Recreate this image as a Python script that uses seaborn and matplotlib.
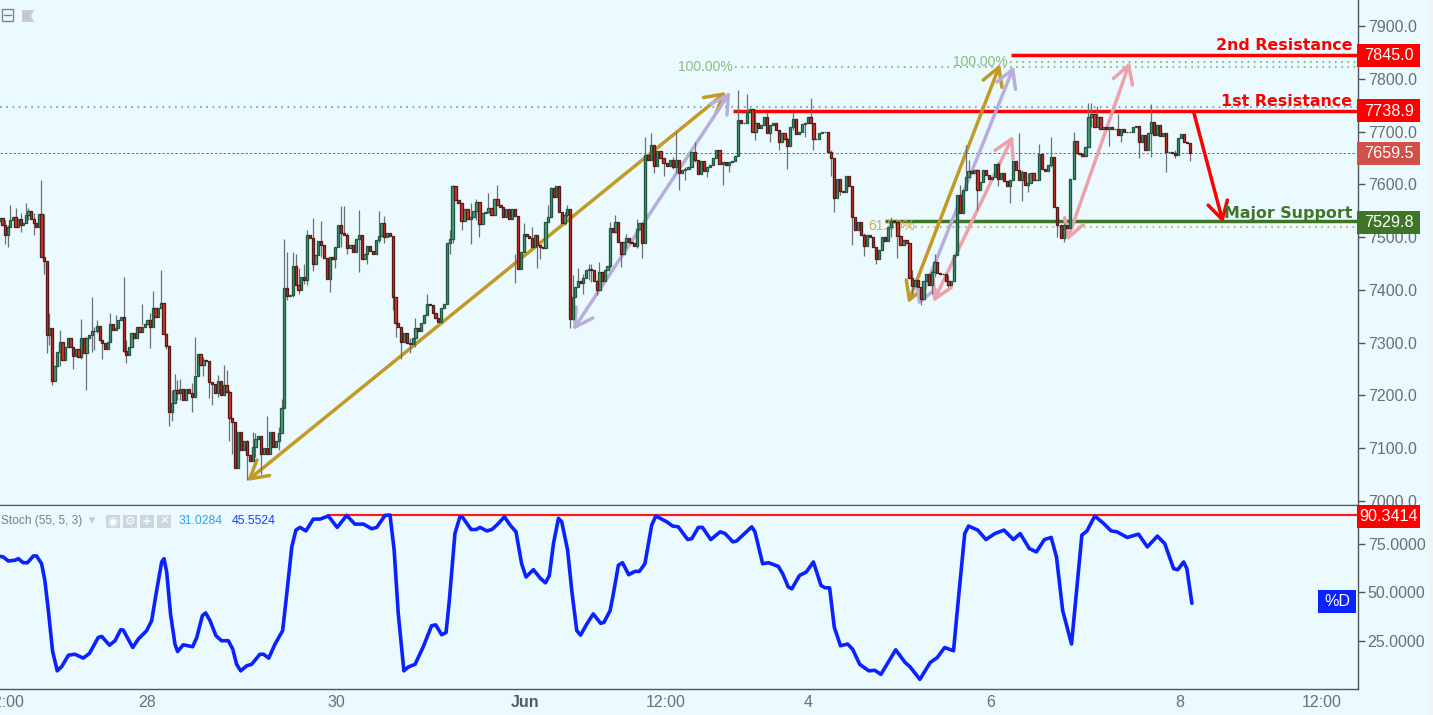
import numpy as np
import pandas as pd
import seaborn as sns
import matplotlib.pyplot as plt
from matplotlib.patches import Rectangle, Polygon

W, H = 1433, 715
BG = '#EAFAFF'
SANS = 'Liberation Sans'

closes_a = [7536, 7523, 7505, 7520, 7532, 7539, 7520, 7534, 7523, 7526,
            7542, 7550, 7534, 7526, 7519, 7543, 7463, 7454, 7315, 7327,
            7228, 7255, 7283, 7302, 7267, 7292, 7308, 7292, 7275, 7289,
            7272, 7309, 7280, 7308, 7315, 7323, 7322, 7332, 7305, 7300,
            7288, 7302, 7335, 7324, 7327, 7343, 7348, 7284, 7277, 7292,
            7318, 7309, 7329, 7321, 7330, 7335, 7343, 7330, 7365, 7349,
            7365, 7375, 7316, 7294, 7168, 7185, 7210, 7204, 7213, 7191,
            7212, 7204, 7198, 7237, 7278, 7258, 7267, 7266, 7225, 7222,
            7204, 7228, 7201, 7220, 7207, 7157, 7150, 7062, 7131, 7097,
            7114, 7087, 7075, 7103, 7117, 7124, 7089, 7101, 7089, 7131,
            7103, 7114, 7128, 7176, 7403, 7388, 7390, 7446, 7409, 7400,
            7424, 7419, 7504, 7498, 7449, 7466, 7493, 7485, 7460, 7420,
            7463, 7458, 7482, 7523, 7507, 7504, 7479]
closes_b = [7486, 7471, 7496, 7504, 7458, 7469, 7484, 7474, 7469, 7494,
            7503, 7526, 7501, 7507, 7503, 7386, 7337, 7329, 7301, 7318,
            7299, 7297, 7308, 7327, 7323, 7337, 7352, 7373, 7371, 7356,
            7346, 7340, 7365, 7374, 7488, 7496, 7597, 7570, 7564, 7530,
            7554, 7535, 7539, 7550, 7566, 7524, 7545, 7547, 7556, 7542,
            7573, 7561, 7558, 7539, 7554, 7534, 7554, 7541, 7439, 7471,
            7506, 7503, 7499, 7482, 7505, 7485, 7481, 7479, 7529, 7539,
            7594, 7577, 7597, 7548, 7526, 7542, 7554, 7344, 7387, 7406,
            7417, 7414, 7422, 7438, 7440, 7438, 7417, 7400, 7434, 7416,
            7438, 7446, 7517, 7509, 7529, 7491, 7469, 7491, 7499, 7491,
            7488, 7484, 7515, 7526, 7489, 7656, 7646, 7674, 7635, 7664,
            7649, 7641, 7635, 7647, 7632, 7646, 7621, 7627, 7630, 7633,
            7662, 7646, 7619, 7645, 7625, 7632, 7637, 7649, 7665, 7638,
            7643, 7637, 7643, 7645, 7654, 7722, 7716, 7716, 7738]
closes_c = [7742, 7700, 7717, 7707, 7712, 7728, 7697, 7712, 7717, 7703,
            7680, 7697, 7685, 7673, 7708, 7723, 7695, 7700, 7714, 7716,
            7727, 7716, 7685, 7685, 7697, 7700, 7700, 7662, 7649, 7575,
            7610, 7587, 7586, 7616, 7596, 7539, 7513, 7529, 7504, 7483,
            7504, 7501, 7482, 7458, 7476, 7501, 7493, 7520, 7530, 7529,
            7503, 7485, 7494, 7488, 7423, 7407, 7419, 7406, 7382, 7416,
            7430, 7409, 7434, 7453, 7433, 7431, 7430, 7416, 7410, 7416,
            7466, 7580, 7545, 7590, 7614, 7625, 7621, 7627, 7590, 7605,
            7627, 7618, 7611, 7613, 7638, 7611, 7621, 7607, 7596, 7608,
            7645, 7627, 7608, 7624, 7599, 7603, 7622, 7608, 7608, 7657,
            7630, 7626, 7637, 7652, 7558, 7523, 7498, 7523, 7518, 7611,
            7683, 7659, 7657, 7654, 7671, 7728, 7734, 7709, 7728, 7704,
            7709, 7704, 7708, 7704, 7704, 7693, 7704, 7700, 7700, 7700,
            7708, 7710, 7681, 7693, 7665, 7697, 7719, 7693, 7712, 7692,
            7697, 7662, 7662, 7659, 7656, 7687, 7695, 7681, 7678, 7659]
first_open = 7530

# big candles pinned to the bar axis: position in closes, bar
pins_a = ([0, 18, 64, 104, 126], [-0.5, 15.3, 56.7, 95.9, 117])
pins_b = ([0, 15, 36, 58, 77, 105, 135, 138], [118.3, 132.6, 152.9, 175.2, 192.7, 218.1, 249.7, 252.6])
pins_c = ([0, 29, 54, 71, 104, 110, 149], [253.6, 282.1, 307.8, 323.8, 356.8, 363.4, 402.8])

# long wicks: bar, high, low
wick_bar = [1.1, 1.8, 2.9, 4.6, 6.8, 8.3, 9.4, 11.1, 13.3, 14, 14.6, 15.3, 16, 17.3, 19.6,
            24.4, 27.2, 28.4, 30.5, 31.7, 32.5, 34.5, 36.8, 38.5, 41, 41.9, 47.7, 50.4, 51.2,
            53.8, 54.8, 56, 56.7, 57.7, 58.7, 59.4, 61.1, 65, 65.7, 68.4, 70.1, 71.8, 73, 75.2,
            76.1, 77.5, 78.4, 80.6, 83.1, 85.1, 86.5, 88.5, 90.5, 93.5, 95.2, 95.9, 96.7, 98.7,
            100, 101, 102.3, 104, 105.1, 105.7, 108.5, 111.4, 112.7, 114.8, 115.6, 117,
            120.9, 124.3, 127.7, 129.7, 132.8, 133.6, 135.3, 138.2, 140.1, 144.3, 151.8, 153.1,
            156, 158.6, 161, 162.3, 165, 168.4, 174.6, 177.2, 180, 181.2, 182.5, 185.3, 186.5,
            190.4, 192.1, 192.7, 193.6, 195.5, 197.2, 198.6, 200, 201.7, 203, 206.6, 207.7,
            209.6, 211.7, 215, 215.8, 217.2, 218.1, 219.8, 221.1, 224.3, 227.1, 229.1, 229.7,
            231.7, 235.1, 239, 244.3, 246.7, 249.7, 252.6,
            255.1, 259.4, 260.6, 263.7, 266.4, 268.5, 272.4, 273.9, 275.2, 280.7, 282.1, 284.3,
            288.5, 291.9, 296.2, 301.5, 303.8, 308.6, 311.2, 315.1, 316.5, 321.2, 324.7, 326.4,
            327.8, 331.2, 337.4, 341.9, 344.4, 345.6, 347.6, 351.9, 356, 357.5, 359.7, 363.4,
            368.5, 369.9, 371.9, 375.8, 378.1, 379.2, 385.8, 389.9, 394.5, 397.3, 402.7]
wick_high = [7532, 7523, 7561, 7555, 7545, 7565, 7556, 7545, 7608, 7543, 7463, 7454, 7356, 7327, 7325,
             7292, 7345, 7311, 7387, 7330, 7343, 7305, 7356, 7352, 7424, 7305, 7373, 7356, 7398,
             7438, 7375, 7318, 7296, 7210, 7241, 7229, 7232, 7223, 7310, 7273, 7254, 7223, 7239, 7258,
             7248, 7210, 7157, 7128, 7116, 7131, 7128, 7103, 7161, 7141, 7194, 7496, 7472, 7471,
             7469, 7441, 7450, 7513, 7536, 7501, 7530, 7463, 7460, 7559, 7559, 7507,
             7551, 7482, 7549, 7540, 7386, 7352, 7324, 7308, 7346, 7393, 7513, 7598,
             7558, 7564, 7573, 7539, 7583, 7599, 7469, 7526, 7520, 7488, 7485, 7561, 7595,
             7548, 7560, 7381, 7428, 7441, 7431, 7450, 7450, 7419, 7453, 7529, 7542,
             7491, 7506, 7507, 7535, 7526, 7690, 7697, 7674, 7649, 7652, 7700, 7633,
             7633, 7681, 7630, 7643, 7643, 7779, 7772,
             7741, 7738, 7712, 7700, 7690, 7738, 7719, 7763, 7706, 7665, 7576, 7611,
             7539, 7507, 7482, 7539, 7501, 7437, 7406, 7437, 7469, 7428, 7599, 7674,
             7646, 7630, 7643, 7608, 7697, 7627, 7621, 7676, 7689, 7558, 7526, 7700,
             7755, 7755, 7748, 7709, 7734, 7704, 7693, 7752, 7665, 7665, 7678]
wick_low = [7487, 7481, 7520, 7520, 7510, 7532, 7532, 7505, 7520, 7444, 7431, 7281, 7296, 7220, 7255,
            7251, 7270, 7210, 7283, 7286, 7318, 7269, 7302, 7324, 7283, 7262, 7334, 7290, 7330,
            7375, 7340, 7289, 7142, 7152, 7185, 7191, 7191, 7169, 7239, 7236, 7195, 7182, 7198, 7204,
            7210, 7114, 7090, 7087, 7040, 7078, 7084, 7051, 7103, 7097, 7141, 7384, 7381, 7387,
            7409, 7393, 7412, 7409, 7444, 7435, 7463, 7397, 7441, 7482, 7507, 7469,
            7434, 7450, 7488, 7488, 7362, 7311, 7270, 7280, 7292, 7356, 7469, 7488,
            7513, 7487, 7532, 7501, 7545, 7561, 7414, 7482, 7479, 7441, 7458, 7529, 7539,
            7523, 7539, 7327, 7343, 7412, 7393, 7419, 7415, 7390, 7425, 7441, 7507,
            7444, 7479, 7479, 7513, 7461, 7656, 7656, 7621, 7616, 7630, 7621, 7589,
            7608, 7643, 7614, 7599, 7624, 7662, 7725,
            7684, 7697, 7681, 7665, 7629, 7703, 7690, 7716, 7666, 7616, 7548, 7580,
            7485, 7465, 7450, 7501, 7460, 7392, 7371, 7392, 7425, 7406, 7545, 7596,
            7614, 7551, 7596, 7565, 7627, 7569, 7586, 7608, 7633, 7501, 7491, 7611,
            7728, 7709, 7709, 7673, 7703, 7681, 7649, 7652, 7624, 7649, 7645]

# stochastic %D, bar and value
stoch_bar = [-0.5, 0.6, 2.3, 4.6, 5.7, 7.4, 8.8, 10.8, 11.9, 13.6, 14.7, 15.9, 17.3, 18.9, 20.4, 22.7,
             24.9, 27.7, 29.8, 32.8, 34, 36.6, 38.5, 40.4, 41.3, 44.5, 46.4, 49.2, 50.9, 52.6, 54.3,
             55.1, 56, 57.3, 58.8, 59.7, 61.6, 64.8, 66.2, 68.1, 69.2, 70.7, 72.7, 74.6, 76.9, 78.4,
             79.7, 81.1, 83.1, 84.8, 87.6, 88.8, 90.6, 92.7, 95.3, 96.7, 98.4, 99.8, 101.2, 103.2,
             105.7, 108, 110.8, 113.8, 117, 119.8, 122.7, 125.5, 127.2, 130, 131.7,
             133.1, 134.5, 136.4, 137.9, 140.2, 143, 145.8, 147.2, 149.2, 150.7, 151.8, 153.7, 155.4,
             156.3, 159.2, 160.9, 162.2, 164.5, 166.2, 168.1, 170.5, 172.4, 174.4, 176.3, 177.8,
             180.3, 182.8, 184.4, 185.7, 187.1, 188.8, 189.9, 191.9, 193.3, 195, 196.3, 198.4, 200.6,
             203.1, 204.2, 206.3, 207.4, 209.1, 210.5, 212.6, 214.7, 216.2, 218.1, 220.4, 221.8,
             225.5, 227.5, 229.4, 232.6, 234, 236.2, 237.6, 240.4, 243.6, 245.3, 247.9, 249.2, 254.3,
             255.4, 258, 260, 263.3, 264.8, 266.7, 267.9, 270.5, 272.8, 275.2, 277.8, 279.2, 280.7,
             282.3, 284.4, 286.8, 288.5, 290.9, 294, 296, 298.1, 300.5, 303.1, 306.3, 307.9, 311.3,
             314.8, 317.2, 319.7, 322.7, 324.3, 326.5, 327.8, 330.9, 333.7, 336.7, 339.8, 343, 345.3,
             348.4, 350.8, 353.5, 355.8, 357.6, 359.7, 362.7, 366.2, 367.9, 370.6, 373.6, 376.1,
             378.1, 381.6, 385.4, 388.4, 391.8, 394.3, 397.3, 398.7, 400.7, 401.8, 403.5]
stoch_val = [68.7, 68.4, 66.3, 66.7, 67.5, 65.4, 65.4, 68.9, 68.9, 64.9, 56.2, 40.6, 19.8, 9.4, 11.6, 17.5,
             18, 16, 18.4, 26.7, 27.2, 22.7, 25, 30.7, 30.5, 21.5, 25.9, 30.2, 35.4, 51, 65.8,
             67.5, 60.6, 38.9, 23.3, 19.4, 22.9, 21.9, 26.7, 38, 39.4, 35.4, 27.6, 25, 25, 20.6,
             12.8, 9.4, 12, 12.8, 18, 18, 16, 23.2, 30.2, 49.3, 73.6, 82.3, 83.7, 81.9,
             88, 88, 89.6, 83.7, 89.9, 85.4, 85.4, 83, 83.7, 89.9, 90.1,
             71.9, 38.9, 9.4, 11.4, 12.8, 22, 32.8, 33.2, 28.1, 29.3, 45.8, 80.5, 89.2,
             88.9, 82.6, 82.6, 83.7, 81.9, 82.6, 85.2, 89.2, 84.9, 81.4, 64.9, 58,
             61.8, 57.1, 55, 58.8, 75.3, 88.4, 86.6, 71.9, 51, 30.2, 27.9, 33.7, 38.9,
             34, 34.5, 40.6, 49.3, 64.1, 65.4, 59.2, 60.9, 60.9, 64.9, 84.9, 89.6,
             86.6, 84.4, 84, 77.4, 77.9, 83.7, 83.7, 77.4, 81.4, 80.5, 76.2, 76.7, 84,
             81.4, 64.9, 65.4, 63.5, 59.7, 52.8, 51.9, 58.8, 60.6, 65.8, 53.6, 52.4, 52.4,
             31.9, 22.4, 23.3, 20.6, 12.8, 9.4, 9.7, 7.6, 13.7, 20.3, 13.7, 11.6, 5,
             13.7, 16.3, 21.5, 19.8, 45.8, 80.5, 84.4, 82.3, 77.4, 80.5, 82.3, 77.4, 80.5,
             72.7, 71, 77.4, 78.5, 68.4, 40.6, 23.3, 79.7, 81.8, 89.6, 85.7, 81.9,
             81.4, 78.5, 80.2, 73.6, 79.2, 75.3, 62.3, 61.8, 65.8, 62.3, 44.4]

# drawn levels: price, first bar
level_1st = (7738.9, 248)
level_2nd = (7845.0, 342.2)
level_support = (7529.8, 299.5)
level_last = 7659.5
level_stoch = (90.3414, 110.3)
dots_blue = (7746.5, -0.5)
dots_green_a = (7822, 248.6)
dots_green_b = (7832, 341.9)
dots_gold = (7520, 301.2)

# trend arrows: bar, price at each end
arrows_gold = [((83.2, 7038), (245.6, 7775)), ((307.3, 7375), (338.5, 7828))]
arrows_purple = [((193.7, 7324), (247, 7775)), ((310.7, 7371), (343.2, 7824))]
arrows_pink = [((315.8, 7377), (342.9, 7692)), ((361.2, 7493), (382.5, 7832))]
arrow_red = ((404.2, 7735), (414.1, 7527))

price_ticks = [7000, 7100, 7200, 7300, 7400, 7500, 7600, 7700, 7800, 7900]
stoch_ticks = [25, 50, 75]
time_ticks = [1.2, 49.4, 113.4, 177.6, 225.3, 273.4, 335.4, 399.5, 447.6]
time_labels = ['12:00', '28', '30', 'Jun', '12:00', '4', '6', '8', '12:00']


def fx(x):
    return x / W


def fy(y):
    return 1 - y / H


def pinned_bars(values, pins):
    return np.interp(np.arange(len(values)), pins[0], pins[1])


def px_box(x0, y0, x1, y1, color, z=4):
    fig.add_artist(Rectangle((fx(x0), fy(y1)), (x1 - x0) / W, (y1 - y0) / H, transform=fig.transFigure,
                             facecolor=color, edgecolor='none', zorder=z))


def price_tag(y, text, color):
    px_box(1357, y - 11.5, 1420, y + 11.5, color)
    fig.text(fx(1389), fy(y + 0.5), text, color='white', fontsize=11.6, family=SANS,
             ha='center', va='center', zorder=5)


sns.set_style('white', {'axes.facecolor': BG, 'figure.facecolor': BG, 'font.family': SANS})
fig = plt.figure(figsize=(W / 100, H / 100), dpi=100, facecolor=BG)
ax = fig.add_axes([0, fy(505), fx(1358), 505 / H])
sub = fig.add_axes([0, fy(689), fx(1358), 184 / H])

candles = pd.DataFrame({
    'bar': np.concatenate([pinned_bars(closes_a, pins_a), pinned_bars(closes_b, pins_b),
                           pinned_bars(closes_c, pins_c)]),
    'close': closes_a + closes_b + closes_c,
})
candles['open'] = candles['close'].shift(1).fillna(first_open)
wicks = pd.DataFrame({'bar': wick_bar, 'high': wick_high, 'low': wick_low})
wicks['bar'] = [candles['bar'].iloc[np.argmin(np.abs(candles['bar'] - b))] for b in wicks['bar']]

# wicks and bodies
ax.vlines(wicks['bar'], wicks['low'], wicks['high'], color='#6d6f72', lw=0.9, zorder=6)
up = candles[candles['close'] >= candles['open']]
down = candles[candles['close'] < candles['open']]
ax.bar(up['bar'], up['close'] - up['open'], bottom=up['open'], width=0.74,
       color='#4F9C7B', edgecolor='#1F5A40', linewidth=0.95, zorder=7)
ax.bar(down['bar'], down['close'] - down['open'], bottom=down['open'], width=0.74,
       color='#D8352B', edgecolor='#571A18', linewidth=0.95, zorder=7)

# levels
xlim = (-0.5, 459.8)
dots = (0, (0.8, 2.2))
ax.hlines(dots_blue[0], dots_blue[1], xlim[1], color='#74A9D8', lw=1.5, ls=dots, zorder=2)
ax.hlines(dots_green_a[0], dots_green_a[1], xlim[1], color='#8DBB7C', lw=1.5, ls=dots, zorder=2)
ax.hlines(dots_green_b[0], dots_green_b[1], xlim[1], color='#8DBB7C', lw=1.5, ls=dots, zorder=2)
ax.hlines(dots_gold[0], dots_gold[1], xlim[1], color='#D9B44A', lw=1.5, ls=dots, zorder=2)
ax.hlines(level_last, xlim[0], xlim[1], color='#C4504A', lw=0.7, ls=(0, (2.5, 2)), zorder=2)
ax.hlines(level_1st[0], level_1st[1], xlim[1], color='#FF0000', lw=2.5, zorder=3)
ax.hlines(level_2nd[0], level_2nd[1], xlim[1], color='#FF0000', lw=2.5, zorder=3)
ax.hlines(level_support[0], level_support[1], xlim[1], color='#3F7527', lw=2.5, zorder=3)

ax.text(248, dots_green_a[0], '100.00%', color='#8DBB7C', fontsize=10, family=SANS, ha='right', va='center', zorder=4)
ax.text(341.2, dots_green_b[0], '100.00%', color='#8DBB7C', fontsize=10, family=SANS, ha='right', va='center', zorder=4)
ax.text(293.7, dots_gold[0] + 1, '61.80%', color='#D2AE4E', fontsize=10, family=SANS, ha='left', va='center', zorder=4)


# arrows sit under the candles
def draw_arrow(ends, color, style='<->'):
    ax.annotate('', xy=ends[1], xytext=ends[0], zorder=5,
                arrowprops=dict(arrowstyle=f'{style},head_length=0.7,head_width=0.4', color=color, lw=2.5,
                                shrinkA=0, shrinkB=0, mutation_scale=18))


for ends in arrows_gold:
    draw_arrow(ends, '#C39A25')
for ends in arrows_purple:
    draw_arrow(ends, '#B8AEDA')
for ends in arrows_pink:
    draw_arrow(ends, '#ECA2AA')
draw_arrow(arrow_red, '#FF0000', '->')

ax.set_xlim(xlim)
ax.set_ylim(6992.5, 7949.3)
ax.set_xticks([])
ax.yaxis.tick_right()
ax.set_yticks(price_ticks, [f'{t:.1f}' for t in price_ticks], family=SANS)

# stochastic pane
stoch = pd.DataFrame({'bar': stoch_bar, 'value': stoch_val})
sns.lineplot(data=stoch, x='bar', y='value', ax=sub, color='#0A22FF', lw=2.6, sort=False, zorder=4,
             solid_joinstyle='round')
sub.hlines(level_stoch[0], level_stoch[1], xlim[1], color='#FF1A1A', lw=1.6, zorder=3)
sub.set_xlim(xlim)
sub.set_ylim(0, 95.3)
sub.set_xlabel('')
sub.set_ylabel('')
sub.yaxis.tick_right()
sub.set_yticks(stoch_ticks, [f'{t:.4f}' for t in stoch_ticks], family=SANS)
sub.set_xticks(time_ticks, time_labels, family=SANS)
sub.get_xticklabels()[3].set_fontweight('bold')
sub.get_xticklabels()[3].set_color('#555a5e')

for a in (ax, sub):
    a.set_facecolor(BG)
    for side in ('left', 'top'):
        a.spines[side].set_visible(False)
    for side in ('right', 'bottom'):
        a.spines[side].set_color('#50565b')
        a.spines[side].set_linewidth(1.0)
    a.tick_params(axis='y', length=5, width=1, color='#50565b', labelcolor='#6b6f73', labelsize=11.5,
                  pad=2, right=True, left=False)
ax.tick_params(axis='x', bottom=False)
sub.tick_params(axis='x', length=5, width=1, color='#50565b', labelcolor='#6b6f73', labelsize=11.5, pad=-1)
sub.get_xticklabels()[3].set_color('#555a5e')
sub.spines['top'].set_visible(True)
sub.spines['top'].set_color('#50565b')

# cut off the 7000.0 label at the pane border, side strip
px_box(1359, 505.5, 1429, 513, BG, z=3)
px_box(1429, 0, 1433, H, '#F1F4F6', z=3)

# chart-pane texts
for y, text, color in [(46, '2nd Resistance', '#FF0000'), (102, '1st Resistance', '#FF0000'),
                       (214, 'Major Support', '#3F7527')]:
    fig.text(fx(1352), fy(y), text, color=color, fontsize=11.4, fontweight='bold', family='DejaVu Sans',
             ha='right', va='center', zorder=5)

price_tag(55, '7845.0', '#FF0000')
price_tag(110.5, '7738.9', '#FF0000')
price_tag(153, '7659.5', '#D1504A')
price_tag(222.5, '7529.8', '#3F7527')
price_tag(516, '90.3414', '#FF0000')

px_box(1318, 590, 1356, 613, '#0A22FF')
fig.text(fx(1337), fy(602), '%D', color='white', fontsize=11.6, family=SANS, ha='center', va='center', zorder=5)

# indicator legend
fig.text(fx(1), fy(521), 'Stoch (55, 5, 3)', color='#7b7f83', fontsize=8.6, family=SANS, va='center')
fig.text(fx(92), fy(521), '\u25be', color='#c4c8cc', fontsize=9, family='DejaVu Sans', ha='center', va='center')
for x0, glyph in [(106, '\u25c9'), (123, '\u2699'), (140, '+'), (157, '\u2715')]:
    px_box(x0, 515, x0 + 14, 528, '#CDD6DB')
    fig.text(fx(x0 + 7), fy(521.5), glyph, color='white', fontsize=8.5, family='DejaVu Sans', fontweight='bold',
             ha='center', va='center', zorder=5)
fig.text(fx(179), fy(521), '31.0284', color='#2AA4F4', fontsize=8.8, family=SANS, va='center')
fig.text(fx(232), fy(521), '45.5524', color='#1E3CFF', fontsize=8.8, family=SANS, va='center')

# top-left buttons
fig.add_artist(Rectangle((fx(2), fy(21)), 11 / W, 12 / H, transform=fig.transFigure, facecolor='none',
                         edgecolor='#7b8590', lw=1))
fig.add_artist(plt.Line2D([fx(4), fx(11)], [fy(15), fy(15)], color='#7b8590', lw=1))
fig.add_artist(Polygon([(fx(22), fy(10)), (fx(34), fy(10)), (fx(31), fy(16)), (fx(34), fy(22)), (fx(22), fy(22))],
                       transform=fig.transFigure, facecolor='#C5CBD0', edgecolor='none'))

fig.savefig('out.png', dpi=100, facecolor=BG)
